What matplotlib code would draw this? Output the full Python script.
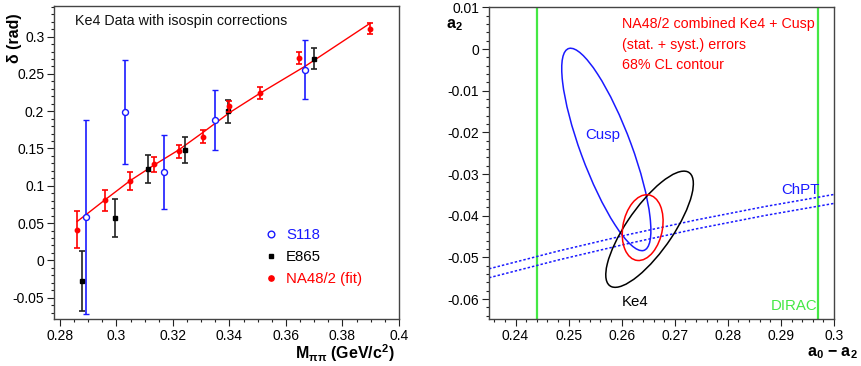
import numpy as np
import matplotlib
matplotlib.use("Agg")
import matplotlib.pyplot as plt
from matplotlib.patches import Ellipse
from matplotlib.lines import Line2D

plt.rcParams['font.family'] = ['Liberation Sans', 'DejaVu Sans']
plt.rcParams['mathtext.default'] = 'regular'

# ---------------- left panel data ----------------
s118_x = [0.2892, 0.3031, 0.3169, 0.3349, 0.3668]
s118_y = [0.058, 0.1987, 0.1183, 0.188, 0.2558]
s118_e = [0.130, 0.070, 0.050, 0.040, 0.040]

e865_x = [0.2878, 0.2995, 0.3112, 0.3241, 0.3395, 0.3698]
e865_y = [-0.0277, 0.0567, 0.1228, 0.148, 0.1996, 0.2705]
e865_e = [0.040, 0.025, 0.019, 0.017, 0.0155, 0.014]

na48_x = [0.2861, 0.2960, 0.3049, 0.3134, 0.3220, 0.3308, 0.3400, 0.3508, 0.3645, 0.3898]
na48_y = [0.041, 0.0808, 0.106, 0.1286, 0.146, 0.166, 0.2063, 0.224, 0.271, 0.3107]
na48_e = [0.025, 0.014, 0.012, 0.010, 0.0085, 0.0085, 0.008, 0.008, 0.008, 0.0075]

fit_x = [0.2861, 0.2892, 0.2960, 0.3049, 0.3134, 0.3220, 0.3308, 0.3400, 0.3508, 0.3668, 0.3898]
fit_y = [0.0522, 0.0612, 0.0813, 0.1070, 0.1280, 0.1480, 0.1720, 0.1980, 0.2240, 0.2603, 0.3179]

# ---------------- right panel data ----------------
# ellipses: centre x, centre y, half-extent x, half-extent y, correlation
cusp_ell = (0.2571, -0.0241, 0.0084, 0.0243, -0.80)
ke4_ell = (0.26525, -0.04325, 0.00825, 0.01395, 0.785)
comb_ell = (0.26395, -0.04286, 0.00385, 0.0079, 0.20)

chpt_x = [0.235, 0.248, 0.261, 0.274, 0.287, 0.300]
chpt_up = [-0.05275, -0.04850, -0.04460, -0.04103, -0.03780, -0.03490]
chpt_lo = [-0.05490, -0.05065, -0.04675, -0.04318, -0.03995, -0.03705]

dirac_x = [0.244, 0.297]

BLUE = '#1a1aff'
RED = '#ff0000'
GREEN = '#44e844'

fig = plt.figure(figsize=(8.61, 3.66), dpi=100)
ax1 = fig.add_axes([54/861, 1-319/366, 345/861, 313/366])
ax2 = fig.add_axes([489/861, 1-319/366, 345/861, 312/366])

def style(ax):
    for s in ax.spines.values():
        s.set_color('#444444')
        s.set_linewidth(1.0)
    ax.tick_params(which='major', direction='out', length=5, width=0.8, labelsize=10, color='#222222', pad=2)
    ax.tick_params(which='minor', direction='out', length=2.5, width=0.8, color='#222222')

# ---- left ----
ax1.plot(fit_x, fit_y, color=RED, lw=1.0, zorder=1)
ax1.errorbar(s118_x, s118_y, yerr=s118_e, fmt='o', mfc='white', mec=BLUE, ms=4.3, mew=1.0,
             ecolor=BLUE, elinewidth=1.2, capsize=2, capthick=1.2, zorder=3)
ax1.errorbar(e865_x, e865_y, yerr=e865_e, fmt='s', color='black', ms=3.2,
             ecolor='#222222', elinewidth=1.2, capsize=2, capthick=1.2, zorder=4)
ax1.errorbar(na48_x, na48_y, yerr=na48_e, fmt='o', color=RED, ms=3.2,
             ecolor=RED, elinewidth=1.2, capsize=2, capthick=1.2, zorder=5)
ax1.set_xlim(0.2779, 0.4)
ax1.set_ylim(-0.0786, 0.341)
ax1.set_xticks(np.arange(0.28, 0.4001, 0.02))
ax1.set_xticklabels(['0.28', '0.3', '0.32', '0.34', '0.36', '0.38', '0.4'])
ax1.set_xticks(np.arange(0.28, 0.4001, 0.005), minor=True)
ax1.set_yticks(np.arange(-0.05, 0.3001, 0.05))
ax1.set_yticklabels(['-0.05', '0', '0.05', '0.1', '0.15', '0.2', '0.25', '0.3'])
ax1.set_yticks(np.arange(-0.07, 0.3401, 0.01), minor=True)
style(ax1)
ax1.text(0.2853, 0.3215, 'Ke4 Data with isospin corrections', fontsize=10.3, va='center', ha='left', color='#111111')
handles = [Line2D([], [], ls='none', marker='o', mfc='white', mec=BLUE, ms=4.8, mew=1.0, color=BLUE),
           Line2D([], [], ls='none', marker='s', color='black', ms=3.5),
           Line2D([], [], ls='none', marker='o', color=RED, ms=3.8)]
ax1.legend(handles, ['S118', 'E865', 'NA48/2 (fit)'], loc='upper left', bbox_to_anchor=(0.594, 0.31),
           frameon=False, fontsize=10.8, handlelength=0.8, handletextpad=0.6, labelspacing=0.55,
           labelcolor=[BLUE, 'black', RED], borderaxespad=0.0)
fig.text(15/861, 1-38/366, 'δ (rad)', rotation=90, fontsize=11.5, fontweight='bold', ha='center', va='center')
fig.text(395/861, 1-353/366, 'M$_{ππ}$ (GeV/c$^2$)', fontsize=11.5, fontweight='bold', ha='right', va='center')

# ---- right ----
def add_ell(ax, p, color):
    cx, cy, sx, sy, rho = p
    cov = np.array([[sx*sx, rho*sx*sy], [rho*sx*sy, sy*sy]])
    vals, vecs = np.linalg.eigh(cov)
    ang = np.degrees(np.arctan2(vecs[1, 1], vecs[0, 1]))
    e = Ellipse((cx, cy), 2*np.sqrt(vals[1]), 2*np.sqrt(vals[0]), angle=ang,
                fill=False, ec=color, lw=1.1, zorder=3)
    ax.add_patch(e)

for xv in dirac_x:
    ax2.axvline(xv, color=GREEN, lw=1.6, zorder=2)
ax2.plot(chpt_x, chpt_up, color=BLUE, lw=1.1, ls=(0, (1.6, 1.3)), zorder=2)
ax2.plot(chpt_x, chpt_lo, color=BLUE, lw=1.1, ls=(0, (1.6, 1.3)), zorder=2)
add_ell(ax2, cusp_ell, BLUE)
add_ell(ax2, ke4_ell, 'black')
add_ell(ax2, comb_ell, RED)
ax2.set_xlim(0.235, 0.3)
ax2.set_ylim(-0.0648, 0.0101)
ax2.set_xticks(np.arange(0.24, 0.3001, 0.01))
ax2.set_xticklabels(['0.24', '0.25', '0.26', '0.27', '0.28', '0.29', '0.3'])
ax2.set_xticks(np.arange(0.236, 0.3001, 0.002), minor=True)
ax2.set_yticks(np.arange(-0.06, 0.0101, 0.01))
ax2.set_yticklabels(['-0.06', '-0.05', '-0.04', '-0.03', '-0.02', '-0.01', '0', '0.01'])
ax2.set_yticks(np.arange(-0.064, 0.0101, 0.002), minor=True)
style(ax2)
ax2.text(0.26003, 0.00608, 'NA48/2 combined Ke4 + Cusp', color=RED, fontsize=10.3, va='center')
ax2.text(0.26003, 0.00105, '(stat. + syst.) errors', color=RED, fontsize=10.3, va='center')
ax2.text(0.26003, -0.00374, '68% CL contour', color=RED, fontsize=10.3, va='center')
ax2.text(0.25306, -0.02074, 'Cusp', color=BLUE, fontsize=10.8, va='center')
ax2.text(0.2900, -0.0339, 'ChPT', color=BLUE, fontsize=10.8, va='center')
ax2.text(0.2600, -0.0607, 'Ke4', color='black', fontsize=10.8, va='center')
ax2.text(0.2881, -0.0617, 'DIRAC', color=GREEN, fontsize=10.8, va='center')
fig.text(454/861, 1-25/366, 'a$_2$', fontsize=11.5, fontweight='bold', ha='center', va='center')
fig.text(858/861, 1-353/366, 'a$_0$ − a$_2$', fontsize=11.5, fontweight='bold', ha='right', va='center')

fig.savefig('out.png', dpi=100)
